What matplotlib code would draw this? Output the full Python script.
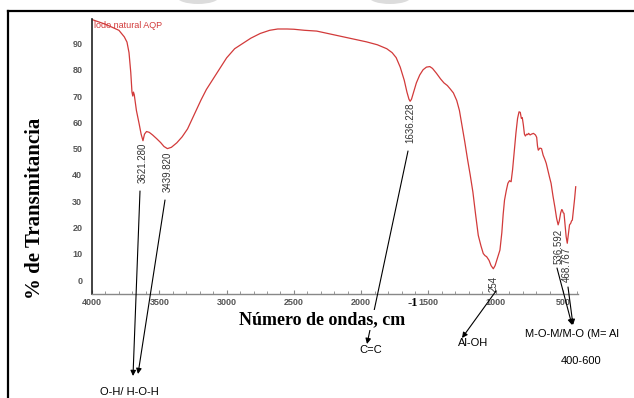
import matplotlib
matplotlib.use('Agg')
from matplotlib import pyplot as plt
from matplotlib.patches import Ellipse
from matplotlib.lines import Line2D

W, H = 634, 398

# FTIR spectrum, natural sludge sample
wavenumber = [3995, 3900, 3800, 3760, 3740, 3725, 3712, 3703, 3697, 3692, 3686, 3670, 3650, 3635,
              3621.28, 3610, 3595, 3575, 3550, 3520, 3490, 3465, 3439.82, 3410, 3370, 3330, 3290,
              3240, 3190, 3150, 3100, 3050, 3000, 2940, 2880, 2820, 2750, 2680, 2620, 2550, 2500,
              2420, 2330, 2230, 2130, 2040, 1960, 1880, 1810, 1770, 1740, 1710, 1680, 1660, 1645,
              1636.228, 1626, 1610, 1590, 1565, 1540, 1515, 1490, 1470, 1440, 1410, 1385, 1360,
              1340, 1315, 1290, 1270, 1250, 1230, 1210, 1190, 1170, 1150, 1130, 1110, 1093, 1080,
              1068, 1050, 1035, 1018.254, 1005, 990, 969, 955, 945, 935, 922, 910, 898, 886, 875,
              862, 850, 838, 827, 818, 810, 803, 795, 787, 780, 770, 763, 756, 745, 735, 720, 705,
              696, 690, 684, 672, 660, 648, 636, 625, 612, 600, 589, 575, 560, 548, 536.592, 528,
              518, 510, 505, 499, 493, 485, 477, 468.767, 460, 452, 443, 437, 431, 422, 414, 406]
transmittance = [99.0, 97.3, 95.0, 92.5, 90.5, 86.5, 79.0, 71.5, 70.0, 71.5, 70.5, 64.5, 59.5, 55.5,
                 53.0, 55.5, 56.5, 56.2, 55.2, 53.8, 52.3, 50.8, 50.0, 50.5, 52.2, 54.5, 57.5,
                 63.0, 68.5, 72.5, 76.5, 80.5, 84.5, 88.0, 90.0, 92.0, 93.8, 95.0, 95.5, 95.5, 95.4,
                 95.0, 94.7, 93.6, 92.5, 91.5, 90.6, 89.5, 88.0, 86.5, 84.6, 81.0, 76.0, 71.5, 68.8,
                 68.0, 68.8, 71.5, 75.0, 78.0, 80.0, 81.0, 81.2, 80.5, 78.6, 76.5, 75.0, 74.0,
                 72.8, 71.2, 68.3, 64.5, 58.5, 52.5, 46.0, 40.0, 33.5, 25.0, 17.0, 13.0, 10.1, 9.3,
                 8.9, 7.5, 5.5, 4.3, 5.5, 8.0, 11.4, 18.0, 25.0, 30.4, 34.0, 36.8, 37.8, 37.4, 42.0,
                 49.4, 56.0, 61.5, 64.0, 63.8, 61.5, 61.8, 59.0, 55.5, 54.8, 55.5, 55.3, 55.8, 55.2, 55.5, 55.8, 55.2,
                 54.3, 51.0, 49.4, 50.2, 50.0, 47.5, 46.0, 44.4, 41.5, 39.0, 36.8, 32.0, 27.5, 23.5, 21.0, 22.5,
                 25.5, 26.8, 26.6, 25.6, 25.4, 21.0, 16.5, 14.0, 17.5, 21.0, 21.6, 22.5, 22.8, 27.0, 31.0, 35.5]

# labelled minima: (wavenumber, transmittance, label text)
peak_wn = [3621.28, 3439.82, 1636.228, 1018.254, 536.592, 468.767]
peak_t = [53.0, 50.0, 68.0, 4.3, 21.0, 14.0]
peak_text = ['3621.280', '3439.820', '1636.228', '254', '536.592', '468.767']
peak_gap = [2, 3, 1, 7, 4, 4]

x_ticks = [4000, 3500, 3000, 2500, 2000, 1500, 1000, 500]
y_ticks = [0, 10, 20, 30, 40, 50, 60, 70, 80, 90]


def px(x, y):
    # pixel position (origin top-left) -> figure fraction
    return x / W, 1 - y / H


def arrow(fig, start, end):
    fig.add_artist(matplotlib.patches.FancyArrowPatch(
        px(*start), px(*end), transform=fig.transFigure, arrowstyle='-|>',
        mutation_scale=8, lw=0.8, color='black', shrinkA=0, shrinkB=0))


fig = plt.figure(figsize=(W / 100, H / 100), dpi=100)
fig.patch.set_facecolor('white')

# faint smudges along the top edge and the frame
for cx in [198, 390]:
    fig.add_artist(Ellipse(px(cx, -3), 42 / W, 14 / H, transform=fig.transFigure,
                           color='#dcdcdc', lw=0))
fig.add_artist(Line2D([8 / W, 1], [1 - 11 / H] * 2, color='black', lw=1.6))
fig.add_artist(Line2D([8 / W] * 2, [1 - 11 / H, 0], color='black', lw=1.6))

ax = fig.add_axes([92 / W, 1 - 294 / H, (578 - 92) / W, (294 - 19) / H])
ax.plot(wavenumber, transmittance, color='#d23a3a', lw=0.9)
ax.set_xlim(4000, 389)
ax.set_ylim(-5.3, 99.3)
ax.set_facecolor('none')

for side in ['top', 'right']:
    ax.spines[side].set_visible(False)
ax.spines['left'].set_color('#222222')
ax.spines['left'].set_linewidth(1.2)
ax.spines['bottom'].set_color('#888888')
ax.spines['bottom'].set_linewidth(1.0)

ax.set_xticks(x_ticks)
ax.set_xticks(range(400, 4000, 100), minor=True)
ax.set_yticks(y_ticks)
ax.tick_params(axis='x', which='major', direction='in', length=3, color='#888888', pad=3)
ax.tick_params(axis='x', which='minor', direction='in', length=2, color='#888888')
ax.tick_params(axis='y', length=0, pad=7)
for lab in ax.get_xticklabels() + ax.get_yticklabels():
    lab.set_fontfamily('Liberation Sans')
    lab.set_fontweight('bold')
    lab.set_fontsize(6.5)
    lab.set_color('#555555')

ax.text(0.005, 0.975, 'lodo natural AQP', transform=ax.transAxes, fontsize=6.5,
        color='#d23a3a', family='Liberation Sans', va='center', ha='left')

for w, t, s, g in zip(peak_wn, peak_t, peak_text, peak_gap):
    ax.annotate(s, (w, t), xytext=(0, -g), textcoords='offset pixels', rotation=90,
                ha='center', va='top', fontsize=7, family='Liberation Sans', color='#333333')

# assignment arrows
arrow(fig, (140, 191), (133, 376))
arrow(fig, (165, 200), (138, 374))
arrow(fig, (408, 151), (367, 344))
arrow(fig, (496, 291), (462, 338))
arrow(fig, (557, 268), (572, 325))
arrow(fig, (568, 287), (573, 325))

serif = 'Liberation Serif'
fig.text(*px(35, 208), '% de Transmitancia', rotation=90, ha='center', va='center',
         family=serif, fontweight='bold', fontsize=15)
fig.text(*px(322, 320), 'Número de ondas, cm', ha='center', va='center', family=serif,
         fontweight='bold', fontsize=13, zorder=5,
         bbox=dict(facecolor='white', edgecolor='none', pad=1))
fig.text(*px(413, 303), '-1', ha='center', va='center', family=serif, fontweight='bold',
         fontsize=9)

sans = 'Liberation Sans'
fig.text(*px(129, 392), 'O-H/ H-O-H', ha='center', va='center', family=sans, fontsize=8)
fig.text(*px(371, 350), 'C=C', ha='center', va='center', family=sans, fontsize=8)
fig.text(*px(473, 343), 'Al-OH', ha='center', va='center', family=sans, fontsize=8)
fig.text(*px(525, 334), 'M-O-M/M-O (M= Al', ha='left', va='center', family=sans, fontsize=8)
fig.text(*px(581, 361), '400-600', ha='center', va='center', family=sans, fontsize=8)

plt.savefig('out.png', dpi=100)
plt.close()
